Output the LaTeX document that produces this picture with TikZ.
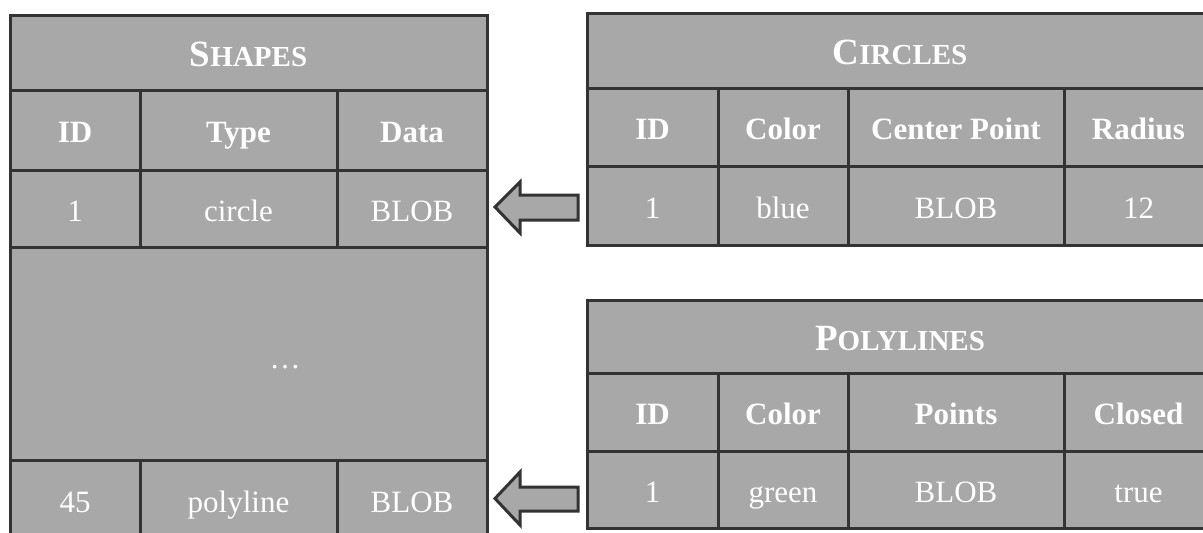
\documentclass[tikz,border=0pt]{standalone}
\usepackage{fontspec}
\setmainfont{Liberation Serif}
\definecolor{cellgray}{RGB}{168,168,168}
\definecolor{rulegray}{RGB}{51,51,51}
% bold title with a large initial and small-cap style remainder
\newcommand{\TitleCaps}[2]{{\bfseries\fontsize{37}{40}\selectfont #1\fontsize{29}{32}\selectfont #2}}

\begin{document}
\begin{tikzpicture}[x=1pt,y=-1pt,
  cell/.style={draw=rulegray, line width=3pt, fill=cellgray, text=white,
    inner sep=0pt, outer sep=0pt, text height=25pt, text depth=0pt,
    font=\fontsize{31}{36}\selectfont},
  head/.style={cell, font=\fontsize{31}{36}\selectfont\bfseries},
  title/.style={cell, text height=28pt},
  sz/.style 2 args={minimum width=#1, minimum height=#2},
  blockarrow/.style={draw=rulegray, line width=3pt, fill=cellgray, line join=miter}]

\useasboundingbox (0,0) rectangle (1203,533);
\clip (0,0) rectangle (1203,533);

% ---------------- Shapes table ----------------
\node[title, sz={477}{75}] (shT) at (248.5,52.5) {\TitleCaps{S}{HAPES}};
\node[head, sz={130}{80}] (shH1) at (75,130) {ID};
\node[head, sz={197}{80}] (shH2) at (238.5,130) {Type};
\node[head, sz={150}{80}] (shH3) at (412,130) {Data};
\node[cell, sz={130}{77}] (shA1) at (75,208.5) {1};
\node[cell, sz={197}{77}] (shA2) at (238.5,208.5) {circle};
\node[cell, sz={150}{77}] (shA3) at (412,208.5) {BLOB};
\node[cell, sz={477}{213}] (shGap) at (248.5,353.5) {};
\node[text=white, font=\fontsize{31}{36}\selectfont, inner sep=0pt] (shDots) at (285,367) {…};
\node[cell, sz={130}{80}] (shB1) at (75,500) {45};
\node[cell, sz={197}{80}] (shB2) at (238.5,500) {polyline};
\node[cell, sz={150}{80}] (shB3) at (412,500) {BLOB};

% ---------------- Circles table ----------------
\node[title, sz={626}{75}] (ciT) at (900,50.5) {\TitleCaps{C}{IRCLES}};
\node[head, sz={131}{78}] (ciH1) at (652.5,127) {ID};
\node[head, sz={130}{78}] (ciH2) at (783,127) {Color};
\node[head, sz={216}{78}] (ciH3) at (956,127) {Center Point};
\node[head, sz={149}{78}] (ciH4) at (1138.5,127) {Radius};
\node[cell, sz={131}{79}] (ciA1) at (652.5,205.5) {1};
\node[cell, sz={130}{79}] (ciA2) at (783,205.5) {blue};
\node[cell, sz={216}{79}] (ciA3) at (956,205.5) {BLOB};
\node[cell, sz={149}{79}] (ciA4) at (1138.5,205.5) {12};

% ---------------- Polylines table ----------------
\node[title, sz={626}{73}] (plT) at (900,336.5) {\TitleCaps{P}{OLYLINES}};
\node[head, sz={131}{78}] (plH1) at (652.5,412) {ID};
\node[head, sz={130}{78}] (plH2) at (783,412) {Color};
\node[head, sz={216}{78}] (plH3) at (956,412) {Points};
\node[head, sz={149}{78}] (plH4) at (1138.5,412) {Closed};
\node[cell, sz={131}{77}] (plA1) at (652.5,489.5) {1};
\node[cell, sz={130}{77}] (plA2) at (783,489.5) {green};
\node[cell, sz={216}{77}] (plA3) at (956,489.5) {BLOB};
\node[cell, sz={149}{77}] (plA4) at (1138.5,489.5) {true};

% ---------------- block arrows pointing to the Shapes rows ----------------
\draw[blockarrow] (495,207) -- (520,182) -- (520,195) -- (578,195)
  -- (578,220) -- (520,220) -- (520,233) -- cycle;
\draw[blockarrow] (495,498.5) -- (520,472) -- (520,487) -- (578,487)
  -- (578,511) -- (520,511) -- (520,525) -- cycle;

\end{tikzpicture}
\end{document}
